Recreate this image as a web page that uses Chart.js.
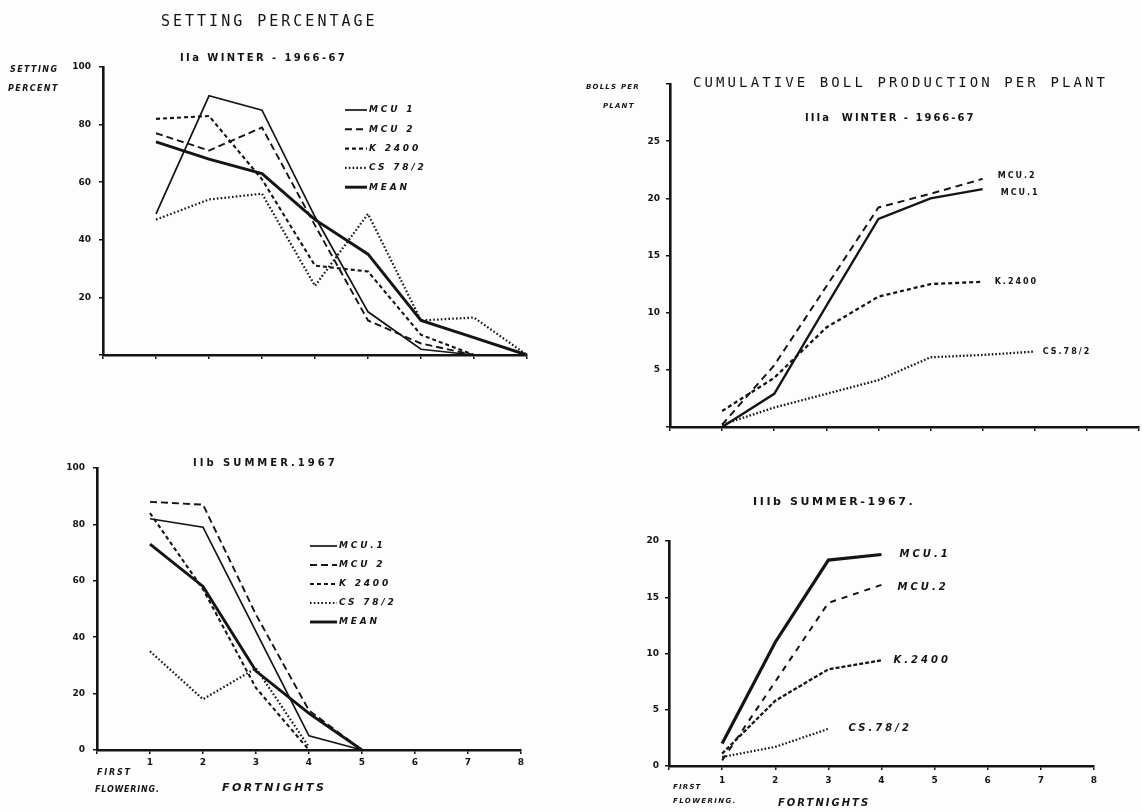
<!DOCTYPE html>
<html>
<head>
<meta charset="utf-8">
<script src="https://cdn.jsdelivr.net/npm/chart.js@4.4.0/dist/chart.umd.min.js"></script>
<style>
  body { margin: 0; background: #fdfdfd; }
  #page { position: relative; width: 1142px; height: 811px; overflow: hidden; background: #fdfdfd; color: #141414; font-family: "DejaVu Sans", sans-serif; }
  canvas { position: absolute; }
  .t { position: absolute; white-space: nowrap; line-height: 1; font-weight: bold; }
  .mono { font-family: "DejaVu Sans Mono", monospace; font-weight: normal; }
  .it { font-style: italic; }
</style>
</head>
<body>
<div id="page">
  <canvas id="setWinter" width="560" height="380" style="left:0;top:0"></canvas>
  <canvas id="setSummer" width="560" height="371" style="left:0;top:440px"></canvas>
  <canvas id="bollWinter" width="572" height="390" style="left:570px;top:60px"></canvas>
  <canvas id="bollSummer" width="572" height="341" style="left:570px;top:470px"></canvas>

  <div class="t mono" style="left:161px;top:14px;font-size:15px;letter-spacing:3px">SETTING PERCENTAGE</div>
  <div class="t" style="left:180px;top:53px;font-size:10px;letter-spacing:2.4px">IIa WINTER - 1966-67</div>
  <div class="t it" style="left:10px;top:66px;font-size:8px;letter-spacing:1.4px">SETTING</div>
  <div class="t it" style="left:8px;top:85px;font-size:8px;letter-spacing:1.4px">PERCENT</div>

  <div class="t" style="left:193px;top:458px;font-size:10px;letter-spacing:3px">IIb SUMMER.1967</div>
  <div class="t it" style="left:97px;top:769px;font-size:8px;letter-spacing:1.8px">FIRST</div>
  <div class="t it" style="left:95px;top:786px;font-size:8px;letter-spacing:0.8px">FLOWERING.</div>
  <div class="t it" style="left:222px;top:782px;font-size:11px;letter-spacing:2.5px">FORTNIGHTS</div>

  <div class="t mono" style="left:693px;top:75px;font-size:14px;letter-spacing:3.1px">CUMULATIVE BOLL PRODUCTION PER PLANT</div>
  <div class="t" style="left:805px;top:113px;font-size:10px;letter-spacing:2px">IIIa&nbsp; WINTER - 1966-67</div>
  <div class="t it" style="left:586px;top:84px;font-size:7px;letter-spacing:1.2px">BOLLS PER</div>
  <div class="t it" style="left:603px;top:103px;font-size:7px;letter-spacing:1.2px">PLANT</div>

  <div class="t" style="left:753px;top:496px;font-size:11px;letter-spacing:2.6px">IIIb SUMMER-1967.</div>
  <div class="t it" style="left:673px;top:784px;font-size:7px;letter-spacing:1.2px">FIRST</div>
  <div class="t it" style="left:673px;top:798px;font-size:7px;letter-spacing:1.4px">FLOWERING.</div>
  <div class="t it" style="left:778px;top:798px;font-size:10px;letter-spacing:2px">FORTNIGHTS</div>
</div>

<script>
// fortnights after first flowering
const fortnights = [1, 2, 3, 4, 5, 6, 7, 8];

// IIa setting percentage, winter 1966-67
const setWinterMCU1 = [49, 90, 85, 48, 15, 2, 0];
const setWinterMCU2 = [77, 71, 79, 45, 12, 4, 0];
const setWinterK2400 = [82, 83, 61, 31, 29, 7, 0];
const setWinterCS = [47, 54, 56, 24, 49, 12, 13, 0];
const setWinterMean = [74, 68, 63, 47, 35, 12, 6, 0];

// IIb setting percentage, summer 1967
const setSummerMCU1 = [82, 79, 42, 5, 0];
const setSummerMCU2 = [88, 87, 48, 14, 0];
const setSummerK2400 = [84, 57, 22, 0];
const setSummerCS = [35, 18, 29, 1];
const setSummerMean = [73, 58, 28, 13, 0];

// IIIa cumulative bolls per plant, winter 1966-67
const bollWinterMCU2 = [0.2, 5.4, 12.3, 19.2, 20.4, 21.7];
const bollWinterMCU1 = [0, 2.9, 10.6, 18.2, 20, 20.8];
const bollWinterK2400 = [1.4, 4.3, 8.7, 11.4, 12.5, 12.7];
const bollWinterCS = [0.2, 1.7, 2.9, 4.1, 6.1, 6.3, 6.6];

// IIIb cumulative bolls per plant, summer 1967
const bollSummerMCU1 = [2, 11, 18.3, 18.8];
const bollSummerMCU2 = [0.5, 7.5, 14.5, 16.1];
const bollSummerK2400 = [1.1, 5.8, 8.6, 9.4];
const bollSummerCS = [0.8, 1.7, 3.3];

// tick labels
const xTickLabels = ['1', '2', '3', '4', '5', '6', '7', '8'];
const setWinterYTicks = [20, 40, 60, 80, 100];
const setSummerYTicks = [0, 20, 40, 60, 80, 100];
const bollWinterYTicks = [5, 10, 15, 20, 25];
const bollSummerYTicks = [0, 5, 10, 15, 20];

const ink = '#141414';
const tickFont = { family: 'DejaVu Sans', size: 9, weight: 'bold' };

function series(label, values, style) {
    return Object.assign({
        label: label,
        data: values.map((v, i) => ({ x: fortnights[i], y: v })),
        borderColor: ink,
        pointRadius: 0,
        tension: 0,
        fill: false,
        clip: false
    }, style);
}

// line styles
const solid = { borderWidth: 1.7 };
const longDash = { borderWidth: 1.9, borderDash: [7, 4] };
const shortDash = { borderWidth: 2.1, borderDash: [4, 3] };
const dotted = { borderWidth: 2.2, borderDash: [1.6, 2.2] };
const thick = { borderWidth: 2.9 };

// legend drawn inside the plot, like the original hand lettering
const inlineLegend = {
    id: 'inlineLegend',
    afterDraw(chart, args, opts) {
        if (!opts.show) return;
        const ctx = chart.ctx;
        ctx.save();
        ctx.strokeStyle = ink;
        ctx.fillStyle = ink;
        ctx.font = 'italic bold 9px "DejaVu Sans"';
        ctx.letterSpacing = '2.8px';
        ctx.textBaseline = 'middle';
        chart.data.datasets.forEach((ds, i) => {
            const y = opts.y + i * opts.gap;
            ctx.lineWidth = ds.borderWidth;
            ctx.setLineDash(ds.borderDash || []);
            ctx.beginPath();
            ctx.moveTo(opts.x, y);
            ctx.lineTo(opts.x + opts.len, y);
            ctx.stroke();
            ctx.fillText(ds.label, opts.x + opts.len + 2, y);
        });
        ctx.restore();
    }
};

// variety names written at the end of each curve
const lineLabels = {
    id: 'lineLabels',
    afterDatasetsDraw(chart, args, opts) {
        if (!opts.show) return;
        const ctx = chart.ctx;
        ctx.save();
        ctx.fillStyle = ink;
        ctx.font = opts.font;
        ctx.letterSpacing = opts.spacing;
        ctx.textBaseline = 'middle';
        chart.data.datasets.forEach((ds, i) => {
            const pts = chart.getDatasetMeta(i).data;
            const last = pts[pts.length - 1];
            const off = opts.offsets[i];
            ctx.fillText(ds.label, last.x + off[0], last.y + off[1]);
        });
        ctx.restore();
    }
};

function axisStyle() {
    return {
        grid: { drawOnChartArea: false, tickLength: 4, color: ink, lineWidth: 1.5 },
        border: { color: ink, width: 2.6 }
    };
}

function panelOptions(p) {
    return {
        responsive: false,
        animation: false,
        events: [],
        layout: { padding: p.pad },
        plugins: {
            legend: { display: false },
            tooltip: { enabled: false },
            inlineLegend: p.legend || { show: false },
            lineLabels: p.labels || { show: false }
        },
        scales: {
            x: Object.assign({
                type: 'linear',
                min: 0,
                max: p.xMax,
                afterFit: s => { s.height = p.xh; },
                ticks: {
                    stepSize: 1,
                    autoSkip: false,
                    maxRotation: 0,
                    padding: p.xPad,
                    color: ink,
                    font: tickFont,
                    callback: v => (p.xLabels && v >= 1 && v <= 8) ? xTickLabels[v - 1] : ''
                }
            }, axisStyle()),
            y: Object.assign({
                min: 0,
                max: p.yMax,
                afterFit: s => { s.width = p.yw; },
                ticks: {
                    stepSize: p.yStep,
                    padding: p.yPad,
                    color: ink,
                    font: tickFont,
                    callback: v => p.yTicks.includes(v) ? String(v) : ''
                }
            }, axisStyle())
        }
    };
}

Chart.register(inlineLegend, lineLabels);

// IIa
new Chart(document.getElementById('setWinter'), {
    type: 'line',
    data: {
        datasets: [
            series('MCU 1', setWinterMCU1, solid),
            series('MCU 2', setWinterMCU2, longDash),
            series('K 2400', setWinterK2400, shortDash),
            series('CS 78/2', setWinterCS, dotted),
            series('MEAN', setWinterMean, thick)
        ]
    },
    options: panelOptions({
        pad: { left: 0, right: 33, top: 67, bottom: 5 },
        xMax: 8, xh: 20, xPad: 3, xLabels: false,
        yMax: 100, yStep: 20, yw: 103, yPad: 8, yTicks: setWinterYTicks,
        legend: { show: true, x: 345, y: 110, gap: 19.3, len: 22 }
    })
});

// IIb
new Chart(document.getElementById('setSummer'), {
    type: 'line',
    data: {
        datasets: [
            series('MCU.1', setSummerMCU1, solid),
            series('MCU 2', setSummerMCU2, longDash),
            series('K 2400', setSummerK2400, shortDash),
            series('CS 78/2', setSummerCS, dotted),
            series('MEAN', setSummerMean, thick)
        ]
    },
    options: panelOptions({
        pad: { left: 0, right: 39, top: 28, bottom: 31 },
        xMax: 8, xh: 30, xPad: 3, xLabels: true,
        yMax: 100, yStep: 20, yw: 97, yPad: 8, yTicks: setSummerYTicks,
        legend: { show: true, x: 310, y: 106, gap: 19, len: 27 }
    })
});

// IIIa
new Chart(document.getElementById('bollWinter'), {
    type: 'line',
    data: {
        datasets: [
            series('MCU.2', bollWinterMCU2, { borderWidth: 2, borderDash: [7, 5] }),
            series('MCU.1', bollWinterMCU1, { borderWidth: 2.3 }),
            series('K.2400', bollWinterK2400, { borderWidth: 2.3, borderDash: [4, 3] }),
            series('CS.78/2', bollWinterCS, { borderWidth: 2.3, borderDash: [1.6, 2] })
        ]
    },
    options: panelOptions({
        pad: { left: 0, right: 0, top: 24, bottom: 3 },
        xMax: 9, xh: 20, xPad: 3, xLabels: false,
        yMax: 30, yStep: 5, yw: 100, yPad: 6, yTicks: bollWinterYTicks,
        labels: { show: true, font: 'bold 8px "DejaVu Sans"', spacing: '2px',
                  offsets: [[15, -3], [18, 4], [12, 0], [8, 0]] }
    })
});

// IIIb
new Chart(document.getElementById('bollSummer'), {
    type: 'line',
    data: {
        datasets: [
            series('MCU.1', bollSummerMCU1, { borderWidth: 3.2 }),
            series('MCU.2', bollSummerMCU2, { borderWidth: 2, borderDash: [6, 6] }),
            series('K.2400', bollSummerK2400, { borderWidth: 2.3, borderDash: [4, 2] }),
            series('CS.78/2', bollSummerCS, { borderWidth: 2.2, borderDash: [1.6, 2] })
        ]
    },
    options: panelOptions({
        pad: { left: 0, right: 48, top: 71, bottom: 15 },
        xMax: 8, xh: 30, xPad: 5, xLabels: true,
        yMax: 20, yStep: 5, yw: 99, yPad: 6, yTicks: bollSummerYTicks,
        labels: { show: true, font: 'italic bold 10px "DejaVu Sans"', spacing: '3px',
                  offsets: [[18, 0], [16, 3], [12, 0], [20, 0]] }
    })
});
</script>
</body>
</html>
